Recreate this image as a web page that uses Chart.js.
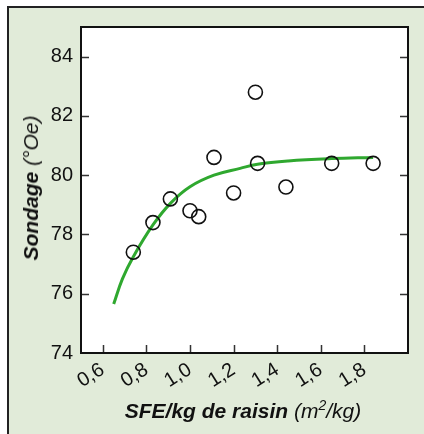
<!DOCTYPE html>
<html lang="fr">
<head>
<meta charset="UTF-8">
<title>Sondage vs SFE/kg de raisin</title>
<script src="https://cdn.jsdelivr.net/npm/chart.js@4.4.1/dist/chart.umd.min.js"></script>
<style>
  html, body { margin: 0; padding: 0; background: #fff; }
  body { width: 424px; height: 434px; position: relative; overflow: hidden; font-family: "Liberation Sans", Arial, sans-serif; }
  #frame { position: absolute; left: 7px; top: 6px; width: 417px; height: 428px; box-sizing: border-box;
           background: #e1ebd9; border-top: 2px solid #222; border-left: 2px solid #222; }
  #wrap { position: absolute; left: 0; top: 0; width: 424px; height: 434px; }
  .title { position: absolute; font-size: 21px; font-style: italic; color: #111; white-space: nowrap; line-height: 24px; }
  .title b { font-weight: bold; }
  .title sup { font-size: 14px; vertical-align: 8px; line-height: 0; }
  #xtitle { left: 62px; width: 362px; top: 399px; text-align: center; }
  #ytitle { left: 31px; top: 188px; transform: translate(-50%, -50%) rotate(-90deg); }
</style>
</head>
<body>
<div id="frame"></div>
<div id="wrap"><canvas id="chart" width="424" height="434"></canvas></div>
<div class="title" id="xtitle"><b>SFE/kg de raisin</b> (m<sup>2</sup>/kg)</div>
<div class="title" id="ytitle"><b>Sondage</b> (°Oe)</div>

<script>
// measured points (open circles)
const pointX = [0.74, 0.83, 0.91, 1.00, 1.04, 1.11, 1.20, 1.30, 1.31, 1.44, 1.65, 1.84];
const pointY = [77.4, 78.4, 79.2, 78.8, 78.6, 80.6, 79.4, 82.8, 80.4, 79.6, 80.4, 80.4];

// fitted curve
const curveX = [0.65, 0.69, 0.74, 0.83, 0.91, 1.00, 1.11, 1.23, 1.31, 1.45, 1.65, 1.84];
const curveY = [75.65, 76.5, 77.25, 78.32, 79.05, 79.61, 80.00, 80.23, 80.37, 80.48, 80.56, 80.60];

// axis ticks
const xTicks = [0.6, 0.8, 1.0, 1.2, 1.4, 1.6, 1.8];
const yTicks = [74, 76, 78, 80, 82, 84];

const INK = '#111';

// white plot area, closed box and inward tick marks
const boxPlugin = {
  id: 'box',
  beforeDatasetsDraw(chart) {
    const { ctx, chartArea: a } = chart;
    ctx.save();
    ctx.fillStyle = '#fff';
    ctx.fillRect(a.left, a.top, a.right - a.left, a.bottom - a.top);
    ctx.restore();
  },
  afterDraw(chart) {
    const { ctx, chartArea: a, scales } = chart;
    ctx.save();
    ctx.strokeStyle = '#333';
    ctx.lineWidth = 1.5;
    ctx.beginPath();
    for (const v of yTicks) {
      if (v === 74) continue;
      const y = Math.round(scales.y.getPixelForValue(v)) + 0.5;
      ctx.moveTo(a.left, y); ctx.lineTo(a.left + 8, y);
      ctx.moveTo(a.right, y); ctx.lineTo(a.right - 8, y);
    }
    for (const v of xTicks) {
      const x = Math.round(scales.x.getPixelForValue(v)) + 0.5;
      ctx.moveTo(x, a.bottom); ctx.lineTo(x, a.bottom - 8);
    }
    ctx.stroke();
    ctx.strokeStyle = INK;
    ctx.lineWidth = 2;
    ctx.strokeRect(a.left, a.top, a.right - a.left, a.bottom - a.top);
    ctx.restore();
  }
};

new Chart(document.getElementById('chart'), {
  type: 'scatter',
  data: {
    datasets: [
      {
        label: 'Courbe',
        data: curveX.map((x, i) => ({ x, y: curveY[i] })),
        showLine: true,
        borderColor: '#2fa82f',
        borderWidth: 3,
        pointRadius: 0,
        tension: 0.4,
        order: 2,
      },
      {
        label: 'Mesures',
        data: pointX.map((x, i) => ({ x, y: pointY[i] })),
        pointRadius: 7,
        pointBackgroundColor: 'rgba(0,0,0,0)',
        pointBorderColor: INK,
        pointBorderWidth: 1.6,
        order: 1,
      }
    ]
  },
  options: {
    responsive: false,
    animation: false,
    layout: { padding: { top: 27, right: 16, left: 0, bottom: 0 } },
    plugins: { legend: { display: false }, tooltip: { enabled: false } },
    scales: {
      x: {
        type: 'linear',
        min: 0.5,
        max: 2.0,
        afterBuildTicks: s => { s.ticks = xTicks.map(v => ({ value: v })); },
        afterFit: s => { s.height = 81; },
        grid: { display: false, drawTicks: false },
        border: { display: false },
        ticks: {
          color: INK,
          font: { family: '"Liberation Sans", Arial, sans-serif', size: 20 },
          minRotation: 32,
          maxRotation: 32,
          padding: 5,
          callback: v => v.toFixed(1).replace('.', ','),
        },
      },
      y: {
        min: 74,
        max: 85,
        afterBuildTicks: s => { s.ticks = yTicks.map(v => ({ value: v })); },
        afterFit: s => { s.width = 81; },
        grid: { display: false, drawTicks: false },
        border: { display: false },
        ticks: {
          color: INK,
          font: { family: '"Liberation Sans", Arial, sans-serif', size: 20 },
          padding: 8,
        },
      }
    }
  },
  plugins: [boxPlugin]
});
</script>
</body>
</html>
